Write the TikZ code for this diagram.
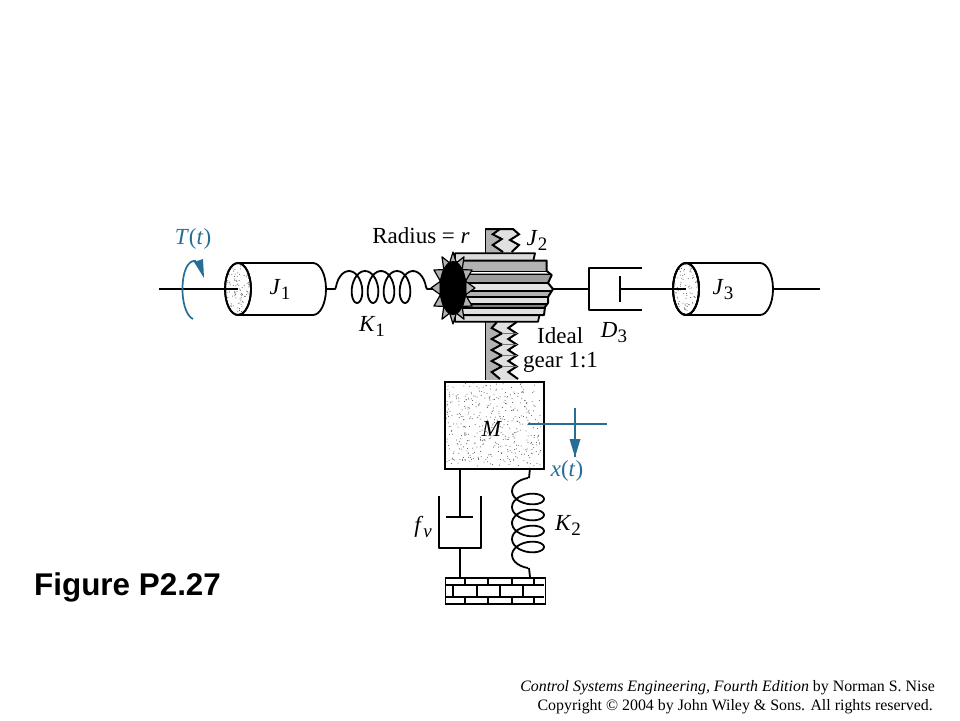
\documentclass[tikz,border=0pt]{standalone}
\usepackage{fontspec}
\setmainfont{Liberation Serif}
\newfontfamily\figfont{Liberation Sans}
\usetikzlibrary{calc}
\definecolor{sigblue}{RGB}{38,110,150}
\tikzset{
 x=1pt,y=-1pt,
 mech/.style={draw=black,line width=1.8pt,line join=round},
 sig/.style={draw=sigblue,line width=1.7pt},
 lab/.style={font=\fontsize{23}{26}\selectfont,inner sep=0pt,text=black},
 slab/.style={lab,text=sigblue},
 captext/.style={font=\fontsize{15.9}{18}\selectfont,inner sep=0pt,anchor=east},
 tooth/.style={draw=black,line width=2pt,line join=miter},
 band/.style={draw=black,line width=1.6pt},
}
\newcommand{\sbs}[1]{\raisebox{-5pt}{\fontsize{19}{19}\selectfont #1}}
\newcommand{\stipple}[5]{% x0 y0 w h count
 \foreach \i in {1,...,#5}{
  \pgfmathsetmacro{\sx}{#1+rnd*#3}
  \pgfmathsetmacro{\sy}{#2+rnd*#4}
  \fill[black!70] (\sx,\sy) circle (0.5);
 }}
\newcommand{\drum}[3]{% name cx rightx
 \coordinate (#1c) at (#2,289);
 \draw[mech,fill=white] (#2,263) -- (#3-13,263) arc[start angle=-90,end angle=90,x radius=13,y radius=26] -- (#2,315);
 \draw[mech,fill=white] (#2,289) ellipse[x radius=13,y radius=26];
 \begin{scope}
  \clip (#2,289) ellipse[x radius=12.3,y radius=25.3];
  \stipple{#2-13}{263}{26}{52}{110}
 \end{scope}
 \draw[mech] (#2,289) ellipse[x radius=13,y radius=26];
}
\begin{document}
\begin{tikzpicture}
\useasboundingbox (0,0) rectangle (960,720);
\pgfmathsetseed{4217}
\fill[white] (0,0) rectangle (960,720);

% ---------- rack
\fill[black!30] (485,229) rectangle (503,254);
\fill[black!30] (485,322) rectangle (503,380);
\draw[black,line width=.8pt] (485,229) -- (485,254) (485,322) -- (485,380);
\fill[black!12] (500,229) -- (492.7,234.3) -- (501.7,239) -- (492.7,245) -- (503,252) -- (511.7,252) -- (519,245) -- (510,240) -- (519,234.3) -- (513,229) -- cycle;
\draw[tooth] (485,229) -- (513,229) -- (519,234.3) -- (510,240) -- (519,245) -- (511.7,252);
\draw[tooth] (500,229) -- (492.7,234.3) -- (501.7,239) -- (492.7,245) -- (503,252);
\fill[black!12] (516.7,322) -- (508.3,328) -- (516.7,333.5) -- (508.3,339) -- (516.7,344.5) -- (508.3,350) -- (516.7,355.5) -- (508.3,361) -- (516.7,366.5) -- (508.3,372) -- (516.7,378) -- (516.7,380) -- (500,380) -- (491.7,372) -- (501.7,366.5) -- (491.7,361) -- (501.7,355.5) -- (491.7,350) -- (501.7,344.5) -- (491.7,339) -- (501.7,333.5) -- (491.7,328) -- (497,322) -- cycle;
\draw[tooth] (516.7,322) -- (508.3,328) -- (516.7,333.5) -- (508.3,339) -- (516.7,344.5) -- (508.3,350) -- (516.7,355.5) -- (508.3,361) -- (516.7,366.5) -- (508.3,372) -- (518,379);
\draw[tooth] (497,322) -- (491.7,328) -- (501.7,333.5) -- (491.7,339) -- (501.7,344.5) -- (491.7,350) -- (501.7,355.5) -- (491.7,361) -- (501.7,366.5) -- (491.7,372) -- (500,379);
\foreach \yy in {333.5,344.5,355.5,366.5}{\draw[black!55,line width=.9pt] (501.7,\yy) -- (516.7,\yy);}

% ---------- gear J2
\draw[mech,fill=black!14] (455,253.3) -- (535,253.3) -- (533,262) -- (455,262) -- cycle;
\draw[mech,fill=black!14] (455,321.7) -- (538,321.7) -- (540,313) -- (455,313) -- cycle;
\begin{scope}
 \clip (460,260.7) -- (546.7,260.7) -- (546.7,271) -- (551.7,275) -- (548,283) -- (553,289) -- (548,297) -- (548,303) -- (545,307) -- (544,315) -- (460,315) -- cycle;
 \fill[black!30] (460,260) rectangle (556,271);
 \fill[black!38] (460,273) rectangle (556,283);
 \fill[black!10] (460,283) rectangle (556,291);
 \fill[black!30] (460,291) rectangle (556,297);
 \fill[black!12] (460,297) rectangle (556,304);
 \fill[black!50] (460,304) rectangle (556,308);
 \fill[black!12] (460,308) rectangle (556,315);
 \foreach \yy in {271.5,274.5,283,291,297,304,308}{\draw[band] (460,\yy) -- (556,\yy);}
\end{scope}
\draw[mech,line width=2pt] (460,260.7) -- (546.7,260.7) -- (546.7,271) -- (551.7,275) -- (548,283) -- (553,289) -- (548,297) -- (548,303) -- (545,307) -- (544,315) -- (460,315);
\coordinate (gearR) at (553,289);
\foreach \a in {0,30,...,330}{
 \draw[mech,line width=1.2pt,fill=black!30]
  ({453+13*cos(\a-15)},{288+26*sin(\a-15)}) --
  ({453+22*cos(\a)},{288+36*sin(\a)}) --
  ({453+13*cos(\a+15)},{288+26*sin(\a+15)}) -- cycle;
}
\fill[black] (453,288) ellipse[x radius=13.5,y radius=27];
\coordinate (gearL) at (433,289);

% ---------- inertias
\coordinate (shaftL) at (159,289);
\coordinate (shaftR) at (820,289);
\draw[mech] (shaftL) -- (238,289);
\drum{jone}{238}{326}
\drum{jthree}{686}{773}
\coordinate (joneR) at (326,289);
\coordinate (jthreeR) at (773,289);
\draw[mech] (shaftL) -- (jonec);
\draw[mech] (jthreeR) -- (shaftR);

% ---------- spring K1
\coordinate (koneL) at (336,287);
\coordinate (koneR) at (426,287);
\draw[mech] (joneR) -- (335,289) -- (koneL);
\draw[mech] plot[smooth,samples=120,domain=-90:1530,variable=\t] ({349+\t/22.5+9*sin(\t)},{287-16*cos(\t)});
\draw[mech] (koneR) -- (427,289) -- (gearL);

% ---------- damper D3
\coordinate (dthreeL) at (589,289);
\coordinate (dthreeP) at (620,289);
\draw[mech] (gearR) -- (dthreeL);
\draw[mech] (642,268) -- (589,268) -- (589,310) -- (642,310);
\draw[mech] (620,276) -- (620,302);
\draw[mech] (dthreeP) -- (jthreec);
\draw[mech] (686,289) ellipse[x radius=13,y radius=26];

% ---------- mass
\node[draw=black,line width=1.9pt,minimum width=99pt,minimum height=87pt,inner sep=0pt,anchor=north west] (mass) at (444,381) {};
\stipple{446}{383}{95}{83}{430}
\coordinate (fvT) at (460,468);
\coordinate (fvP) at (460,517);
\coordinate (fvB) at (460,548);
\coordinate (fvG) at (460,577);
\coordinate (ktwoT) at (530,468);
\coordinate (ktwoS) at (529,478);
\coordinate (ktwoE) at (529,568);
\coordinate (ktwoG) at (530,577);

% ---------- damper fv
\draw[mech] (fvT) -- (fvP);
\draw[mech] (446,517) -- (473,517);
\draw[mech] (439,496) -- (439,548) -- (481,548) -- (481,496);
\draw[mech] (fvB) -- (fvG);

% ---------- spring K2
\draw[mech] (ktwoT) -- (ktwoS);
\draw[mech] plot[smooth,samples=120,domain=-90:1530,variable=\t] ({528-16*cos(\t)},{491+\t/22.5+9*sin(\t)});
\draw[mech] (ktwoE) -- (ktwoG);

% ---------- ground
\node[draw=black,line width=1.9pt,fill=white,minimum width=100pt,minimum height=26pt,inner sep=0pt,anchor=north west] (ground) at (444.5,577) {};
\draw[black,line width=1.3pt] (445,585) -- (544,585) (445,597) -- (544,597);
\foreach \xx in {465,488,512,534}{\draw[black,line width=1.3pt] (\xx,577) -- (\xx,585) (\xx,597) -- (\xx,603);}
\foreach \xx in {453,477,500,523}{\draw[black,line width=1.3pt] (\xx,585) -- (\xx,597);}

% ---------- signals
\coordinate (tA) at (193,319);
\coordinate (tB) at (196,261);
\draw[sig] (tA) .. controls (178,312) and (179,258) .. (tB);
\fill[sigblue] (194,262) -- (203,259) -- (204,278) -- cycle;
\coordinate (xA) at (528,424);
\coordinate (xB) at (607,424);
\coordinate (xC) at (575,408);
\coordinate (xD) at (575,457);
\draw[sig] (xA) -- (xB);
\draw[sig] (xC) -- (xD);
\fill[sigblue] (569.5,439) -- (580.5,439) -- (575,457) -- cycle;

% ---------- labels
\node[slab] (lT) at (193,239) {\textit{T}(\textit{t})};
\node[slab] (lx) at (567,471) {\textit{x}(\textit{t})};
\node[lab] (lRad) at (421,236) {Radius = \textit{r}};
\node[lab] (lJ1) at (280,289) {\textit{J}\sbs{1}};
\node[lab] (lK1) at (372,326) {\textit{K}\sbs{1}};
\node[lab] (lJ2) at (537,240) {\textit{J}\sbs{2}};
\node[lab] (lD3) at (614,333) {\textit{D}\sbs{3}};
\node[lab] (lJ3) at (723,290) {\textit{J}\sbs{3}};
\node[lab,anchor=west] (lId) at (537,336) {Ideal};
\node[lab,anchor=west] (lGear) at (523,362) {gear 1:1};
\node[lab] (lM) at (492,429) {\textit{M}};
\node[lab] (lfv) at (423,527) {\textit{f}\sbs{\textit{v}}};
\node[lab] (lK2) at (568,525) {\textit{K}\sbs{2}};
\node[font=\figfont\bfseries\fontsize{31.4}{34}\selectfont,inner sep=0pt,anchor=west] (lFig) at (34,587) {Figure P2.27};
\node[captext] (lC1) at (935,688) {\textit{Control Systems Engineering, Fourth Edition} by Norman S. Nise};
\node[captext] (lC2) at (933,707) {Copyright © 2004 by John Wiley \& Sons. All rights reserved.};
\end{tikzpicture}
\end{document}
